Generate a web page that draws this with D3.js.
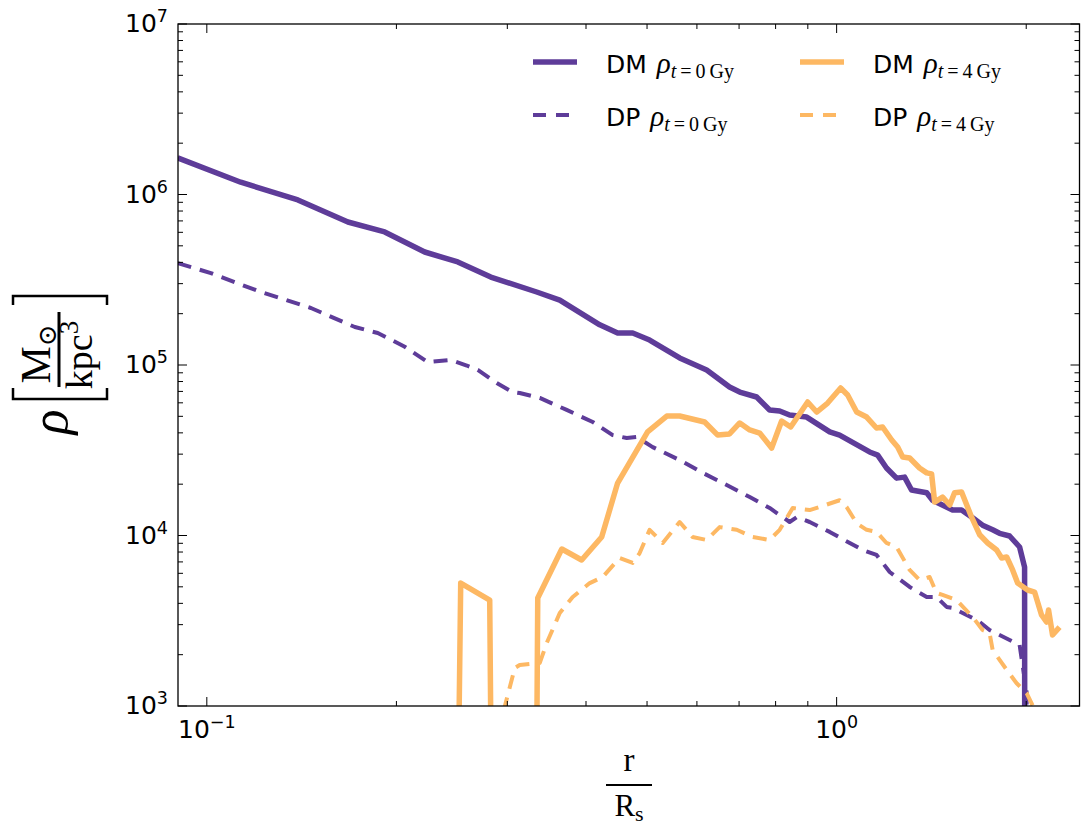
<!DOCTYPE html>
<html><head><meta charset="utf-8">
<script src="https://cdn.jsdelivr.net/npm/d3@7"></script>
<style>body{margin:0;background:#fff} svg{display:block}</style>
</head><body><svg id="c" width="1081" height="828"></svg>
<script>
// ---- data ----
const xDomain = [0.09, 2.43];
const yDomain = [1e3, 1e7];
const xMajorTicks = [0.1, 1];
const xMinorTicks = [0.2,0.3,0.4,0.5,0.6,0.7,0.8,0.9,2];
const yMajorTicks = [1e3,1e4,1e5,1e6,1e7];
const xTickExp = ["\u22121","0"];
const yTickExp = ["3","4","5","6","7"];

const r_dm0 = [0.0899,0.1132,0.1395,0.1675,0.1916,0.2218,0.2503,0.2824,0.334,0.3634,0.4206,0.449,0.4745,0.5047,0.5633,0.6218,0.676,0.7017,0.7464,0.7827,0.812,0.842,0.8961,0.975,1.011,1.128,1.162,1.20,1.245,1.282,1.315,1.390,1.420,1.528,1.579,1.644,1.705,1.769,1.814,1.882,1.952,1.988,2.003];
const rho_dm0 = [1.64e6,1.18e6,9.29e5,6.90e5,6.03e5,4.60e5,4.02e5,3.28e5,2.68e5,2.40e5,1.72e5,1.54e5,1.54e5,1.40e5,1.10e5,9.35e4,7.43e4,6.94e4,6.49e4,5.45e4,5.37e4,5.09e4,4.95e4,4.05e4,3.88e4,3.09e4,2.96e4,2.49e4,2.17e4,2.20e4,1.85e4,1.78e4,1.61e4,1.41e4,1.41e4,1.27e4,1.15e4,1.08e4,1.03e4,9.93e3,8.56e3,6.53e3,0];

const r_dp0 = [0.0899,0.1015,0.1218,0.1463,0.1718,0.1868,0.2062,0.2243,0.2439,0.2587,0.2693,0.2886,0.3059,0.3139,0.3378,0.3727,0.41,0.441,0.4642,0.4814,0.5104,0.5633,0.6127,0.669,0.7278,0.7827,0.842,0.8641,0.906,0.975,1.049,1.10,1.157,1.214,1.306,1.390,1.441,1.495,1.528,1.644,1.687,1.749,1.952,2.003,2.02];
const rho_dp0 = [3.96e5,3.46e5,2.68e5,2.16e5,1.67e5,1.54e5,1.28e5,1.04e5,1.07e5,9.93e4,9.35e4,7.84e4,6.94e4,6.85e4,6.41e4,5.45e4,4.63e4,3.88e4,3.73e4,3.78e4,3.30e4,2.77e4,2.33e4,1.98e4,1.68e4,1.45e4,1.20e4,1.28e4,1.20e4,1.05e4,9.04e3,8.22e3,7.69e3,6.11e3,4.99e3,4.36e3,4.36e3,3.81e3,3.76e3,3.28e3,3.11e3,2.79e3,2.28e3,1.2e3,0];

const r_dm4 = [0.2243,0.2530,0.2813,0.3059,0.3139,0.3353,0.3661,0.3937,0.4236,0.449,0.501,0.5374,0.5633,0.6172,0.6474,0.676,0.7017,0.7278,0.7547,0.7885,0.8178,0.8454,0.8995,0.9296,0.9677,1.0147,1.041,1.076,1.116,1.157,1.183,1.223,1.250,1.273,1.306,1.354,1.390,1.415,1.431,1.473,1.512,1.539,1.579,1.638,1.687,1.737,1.795,1.828,1.862,1.903,1.938,2.010,2.062,2.115,2.154,2.170,2.202,2.259];
const rho_dm4 = [0,5.26e3,4.18e3,0,0,4.30e3,8.33e3,7.18e3,9.80e3,2.03e4,4.05e4,5.02e4,5.02e4,4.63e4,3.88e4,3.94e4,4.57e4,4.16e4,3.99e4,3.26e4,4.69e4,4.33e4,6.07e4,5.30e4,5.98e4,7.33e4,6.67e4,5.30e4,4.95e4,4.27e4,4.33e4,3.63e4,3.30e4,2.89e4,2.85e4,2.49e4,2.33e4,2.30e4,1.57e4,1.68e4,1.51e4,1.78e4,1.80e4,1.28e4,1.01e4,9.04e3,8.22e3,7.38e3,7.48e3,6.28e3,5.26e3,4.79e3,4.66e3,3.42e3,3.11e3,3.66e3,2.61e3,2.90e3];

const r_dp4 = [0.27,0.2917,0.3083,0.3139,0.3378,0.3465,0.3634,0.381,0.4055,0.4251,0.4522,0.4745,0.4867,0.5047,0.5295,0.5633,0.5905,0.6218,0.652,0.694,0.7356,0.7827,0.812,0.8516,0.906,0.9397,1.011,1.037,1.076,1.116,1.157,1.20,1.245,1.306,1.354,1.405,1.441,1.473,1.550,1.644,1.705,1.749,1.769,1.862,1.931,2.003,2.10];
const rho_dp4 = [0,760,1.67e3,1.74e3,1.79e3,2.34e3,3.51e3,4.36e3,5.26e3,5.71e3,7.38e3,6.90e3,7.89e3,1.08e4,9.04e3,1.20e4,9.80e3,9.41e3,1.12e4,1.08e4,9.80e3,9.41e3,1.08e4,1.45e4,1.41e4,1.47e4,1.61e4,1.47e4,1.18e4,1.08e4,1.05e4,9.04e3,8.56e3,6.28e3,5.48e3,5.71e3,4.60e3,4.48e3,4.18e3,3.33e3,2.79e3,2.68e3,2.13e3,1.63e3,1.36e3,1.19e3,8.3e2];

const seriesNames = ["DM","DP","DM","DP"];
const seriesTimes = ["0","0","4","4"];

// ---- drawing ----
const PURPLE = "#5e3c99", ORANGE = "#fdb863";
const L = 178, R = 1079.5, T = 24, B = 706;
const svg = d3.select("#c");
const x = d3.scaleLog().domain(xDomain).range([L, R]);
const y = d3.scaleLog().domain(yDomain).range([B, T]);
const FLOOR = 1e-12; // nonpositive values clipped like matplotlib

svg.append("defs").append("clipPath").attr("id","pc")
  .append("rect").attr("x",L).attr("y",T).attr("width",R-L).attr("height",B-T);

const series = [
  {r:r_dm0, v:rho_dm0, color:PURPLE, dash:null},
  {r:r_dp0, v:rho_dp0, color:PURPLE, dash:"14,9"},
  {r:r_dm4, v:rho_dm4, color:ORANGE, dash:null},
  {r:r_dp4, v:rho_dp4, color:ORANGE, dash:"14,9"}
];
const line = d3.line().x(d=>x(d[0])).y(d=>y(Math.max(d[1],FLOOR)));
const g = svg.append("g").attr("clip-path","url(#pc)");
series.forEach(s=>{
  g.append("path").datum(s.r.map((r,i)=>[r,s.v[i]]))
   .attr("d",line).attr("fill","none").attr("stroke",s.color)
   .attr("stroke-width", s.dash?4:5.5)
   .attr("stroke-linejoin","round")
   .attr("stroke-dasharray", s.dash);
});

// spines
svg.append("rect").attr("x",L).attr("y",T).attr("width",R-L).attr("height",B-T)
  .attr("fill","none").attr("stroke","#000").attr("stroke-width",1.3);

// ticks
const ticks = svg.append("g").attr("stroke","#000").attr("stroke-width",1);
function xt(v,len){
  ticks.append("line").attr("x1",x(v)).attr("x2",x(v)).attr("y1",B).attr("y2",B-len);
  ticks.append("line").attr("x1",x(v)).attr("x2",x(v)).attr("y1",T).attr("y2",T+len);
}
function yt(v,len){
  ticks.append("line").attr("y1",y(v)).attr("y2",y(v)).attr("x1",L).attr("x2",L+len);
  ticks.append("line").attr("y1",y(v)).attr("y2",y(v)).attr("x1",R).attr("x2",R-len);
}
xMajorTicks.forEach(v=>xt(v,9));
xMinorTicks.forEach(v=>xt(v,5));
yMajorTicks.forEach(v=>yt(v,9));
yMajorTicks.slice(0,-1).forEach(v=>{ for(let k=2;k<=9;k++) yt(v*k,5); });

// tick labels
const SANS = "'DejaVu Sans', sans-serif";
xMajorTicks.forEach((v,i)=>{
  const t = svg.append("text").attr("x",x(v)).attr("y",738).attr("text-anchor","middle")
    .attr("font-family",SANS).attr("font-size",25).attr("fill","#000");
  t.append("tspan").text("10");
  t.append("tspan").attr("font-size",17.5).attr("dy",-10).text(xTickExp[i]);
});
yMajorTicks.forEach((v,i)=>{
  const t = svg.append("text").attr("x",168).attr("y",y(v)+8).attr("text-anchor","end")
    .attr("font-family",SANS).attr("font-size",25).attr("fill","#000");
  t.append("tspan").text("10");
  t.append("tspan").attr("font-size",17.5).attr("dy",-10).text(yTickExp[i]);
});

// legend
const SERIF = "'Liberation Serif', 'DejaVu Serif', serif";
const legX = [533, 800], legY = [62, 115];
series.forEach((s,i)=>{
  const col = Math.floor(i/2), row = i%2;
  const lx = legX[col], ly = legY[row];
  svg.append("line").attr("x1",lx).attr("x2",lx+44).attr("y1",ly).attr("y2",ly)
    .attr("stroke",s.color).attr("stroke-width",s.dash?4:5.5)
    .attr("stroke-dasharray", s.dash ? "13,10" : null);
  const t = svg.append("text").attr("x",lx+73).attr("y",ly+11)
    .attr("font-family",SANS).attr("font-size",25).attr("fill","#000");
  t.append("tspan").text(seriesNames[i]);
  t.append("tspan").attr("dx",10).attr("font-family",SERIF).attr("font-style","italic").attr("font-size",29).text("\u03c1");
  t.append("tspan").attr("dy",5).attr("font-family",SERIF).attr("font-style","italic").attr("font-size",20).text("t");
  t.append("tspan").attr("font-family",SERIF).attr("font-size",20).text("\u2009=\u2009" + seriesTimes[i] + "\u2009Gy");
});

// x label
const xl = svg.append("g").attr("font-family",SERIF).attr("fill","#000");
xl.append("text").attr("x",629).attr("y",771).attr("text-anchor","middle").attr("font-size",33).text("r");
xl.append("line").attr("x1",606).attr("x2",652).attr("y1",785).attr("y2",785).attr("stroke","#000").attr("stroke-width",2);
const xR = xl.append("text").attr("x",629).attr("y",816).attr("text-anchor","middle").attr("font-size",31);
xR.append("tspan").text("R");
xR.append("tspan").attr("font-size",22).attr("dy",5).text("s");

// y label (rotated)
const yl = svg.append("g").attr("transform","translate(59,350) rotate(-90)").attr("font-family",SERIF).attr("fill","#000");
yl.append("text").attr("x",-72).attr("y",8).attr("text-anchor","middle").attr("font-style","italic").attr("font-size",52).text("\u03c1");
yl.append("path").attr("d","M-38,-46L-49,-46L-49,48L-38,48").attr("fill","none").attr("stroke","#000").attr("stroke-width",2.5);
yl.append("path").attr("d","M45,-46L54,-46L54,48L45,48").attr("fill","none").attr("stroke","#000").attr("stroke-width",2.5);
yl.append("line").attr("x1",-37).attr("x2",38).attr("y1",0).attr("y2",0).attr("stroke","#000").attr("stroke-width",3);
const num = yl.append("text").attr("x",-4).attr("y",-9).attr("text-anchor","middle").attr("font-size",42);
num.append("tspan").text("M");
num.append("tspan").attr("font-size",26).attr("dy",6).text("\u2299");
const den = yl.append("text").attr("x",-5).attr("y",33).attr("text-anchor","middle").attr("font-size",38);
den.append("tspan").text("kpc");
den.append("tspan").attr("font-size",27).attr("dy",-14).text("3");
</script></body></html>
